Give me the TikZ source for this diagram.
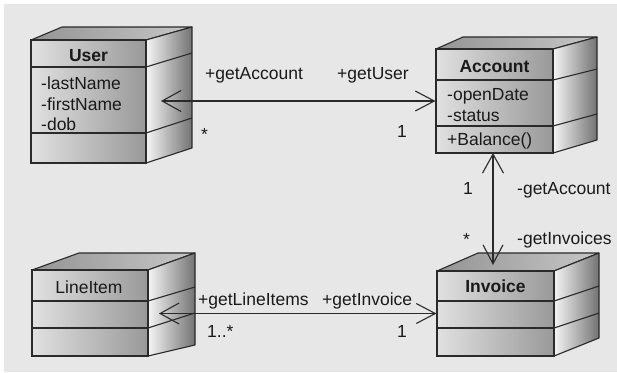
\documentclass[tikz,border=0pt]{standalone}
\usepackage{fontspec}
\setmainfont{Liberation Sans}
\usetikzlibrary{arrows.meta}
\definecolor{bg}{HTML}{E7E7E7}
\definecolor{ink}{HTML}{2A2A2A}
\definecolor{txt}{HTML}{1A1A1A}
\tikzset{
  front/.style={draw=ink, line width=1.1pt, inner sep=0pt, left color=black!12, right color=black!40},
  side/.style={left color=black!4, right color=black!55},
  topf/.style={left color=black!42, right color=black!22},
  edge/.style={draw=ink, line width=1.1pt, line join=round},
  lbl/.style={inner sep=0pt, anchor=base west, text=txt, font=\fontsize{17.5}{21}\selectfont},
  title/.style={inner sep=0pt, anchor=base, text=txt, font=\fontsize{17.5}{21}\selectfont\bfseries},
  ttl/.style={inner sep=0pt, anchor=base, text=txt, font=\fontsize{17.5}{21}\selectfont},
  assoc/.style={draw=ink, line width=1.1pt, {Straight Barb[length=19pt,width=21pt,line width=1.1pt]}-{Straight Barb[length=19pt,width=20pt,line width=1.1pt]}}
}
\begin{document}
\begin{tikzpicture}[x=1pt,y=-1pt]
\useasboundingbox (0,0) rectangle (617,372);
\fill[bg] (4,4) rectangle (617,372);

% ---------- User ----------
\shade[topf] (31,40) -- (62,27) -- (192,27) -- (146,40) -- cycle;
\draw[edge] (31,40) -- (62,27) -- (192,27) -- (146,40);
\shade[side] (146,40) -- (192,27) -- (192,148) -- (146,163) -- cycle;
\draw[edge] (146,40) -- (192,27) -- (192,148) -- (146,163);
\draw[edge] (146,67) -- (192,53) (146,133) -- (192,118);
\node[front, minimum width=115pt, minimum height=123pt] (user) at (88.5,101.5) {};
\draw[edge] (31,67) -- (146,67) (31,133) -- (146,133);
\node[title] (userT) at (88.5,61) {User};
\node[lbl] (userA1) at (41,89) {-lastName};
\node[lbl] (userA2) at (41,110) {-firstName};
\node[lbl] (userA3) at (41,130) {-dob};

% ---------- Account ----------
\shade[topf] (436,49) -- (463,37) -- (597,37) -- (553,49) -- cycle;
\draw[edge] (436,49) -- (463,37) -- (597,37) -- (553,49);
\shade[side] (553,49) -- (597,37) -- (597,140) -- (553,153) -- cycle;
\draw[edge] (553,49) -- (597,37) -- (597,140) -- (553,153);
\draw[edge] (553,80) -- (597,69) (553,126) -- (597,114);
\node[front, minimum width=117pt, minimum height=104pt] (account) at (494.5,101) {};
\draw[edge] (436,80) -- (553,80) (436,126) -- (553,126);
\node[title] (accT) at (494.5,72) {Account};
\node[lbl] (accA1) at (447,100) {-openDate};
\node[lbl] (accA2) at (447,121) {-status};
\node[lbl] (accM1) at (447,145) {+Balance()};

% ---------- LineItem ----------
\shade[topf] (32,270) -- (79,253) -- (195,253) -- (148,270) -- cycle;
\draw[edge] (32,270) -- (79,253) -- (195,253) -- (148,270);
\shade[side] (148,270) -- (195,253) -- (195,345) -- (148,356) -- cycle;
\draw[edge] (148,270) -- (195,253) -- (195,345) -- (148,356);
\draw[edge] (148,301) -- (195,287) (148,328) -- (195,313);
\node[front, minimum width=116pt, minimum height=86pt] (lineitem) at (90,313) {};
\draw[edge] (32,301) -- (148,301) (32,328) -- (148,328);
\node[ttl] (liT) at (89,293) {LineItem};

% ---------- Invoice ----------
\shade[topf] (437,271) -- (478,253) -- (599,253) -- (554,271) -- cycle;
\draw[edge] (437,271) -- (478,253) -- (599,253) -- (554,271);
\shade[side] (554,271) -- (599,253) -- (599,338) -- (554,356) -- cycle;
\draw[edge] (554,271) -- (599,253) -- (599,338) -- (554,356);
\draw[edge] (554,301) -- (599,286) (554,328) -- (599,313);
\node[front, minimum width=117pt, minimum height=85pt] (invoice) at (495.5,313.5) {};
\draw[edge] (437,301) -- (554,301) (437,328) -- (554,328);
\node[title] (invT) at (495.5,292) {Invoice};

% ---------- connectors ----------
\coordinate (uTip) at (161,101);
\coordinate (iTip) at (493,265);
\coordinate (aTip) at (493,153);
\coordinate (lTip) at (159,313.5);
\draw[assoc] (uTip) -- (account.west);
\draw[assoc] (aTip) -- (iTip);
\draw[assoc] (lTip) -- (invoice.west);

% ---------- labels ----------
\node[lbl] (l1) at (205,79) {+getAccount};
\node[lbl] (l2) at (337,79) {+getUser};
\node[lbl] (l3) at (201,140) {*};
\node[lbl] (l4) at (397,137) {1};
\node[lbl] (l5) at (463,194) {1};
\node[lbl] (l6) at (517,194) {-getAccount};
\node[lbl] (l7) at (463,245) {*};
\node[lbl] (l8) at (517,244) {-getInvoices};
\node[lbl] (l9) at (198,305) {+getLineItems};
\node[lbl] (l10) at (322,305) {+getInvoice};
\node[lbl] (l11) at (207,337) {1..*};
\node[lbl] (l12) at (397,337) {1};
\end{tikzpicture}
\end{document}
